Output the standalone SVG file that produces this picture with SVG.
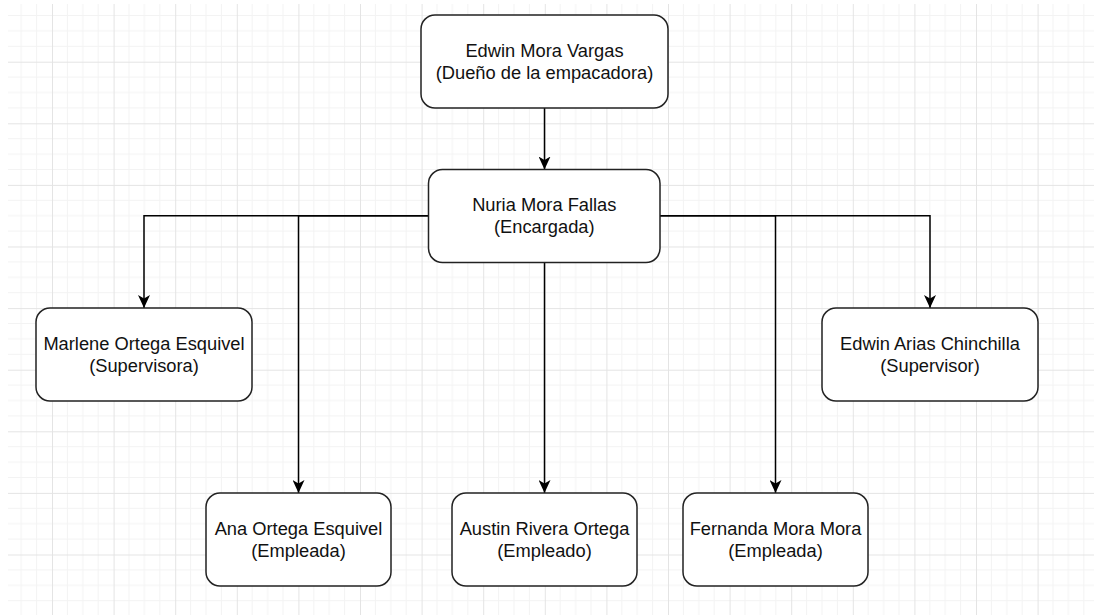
<svg xmlns="http://www.w3.org/2000/svg" width="1094" height="615" viewBox="0 0 1094 615">
  <style>
    .node rect { fill: #ffffff; stroke: #222222; stroke-width: 1.5; }
    .node text { font-family: "Liberation Sans", Arial, Helvetica, sans-serif; font-size: 18.3px; fill: #111111; text-anchor: middle; }
    .edge { fill: none; stroke: #000000; stroke-width: 1.5; marker-end: url(#arrow); }
  </style>
  <defs>
    <marker id="arrow" viewBox="0 0 14 12" refX="13" refY="6" markerWidth="14" markerHeight="12" markerUnits="userSpaceOnUse" orient="auto">
      <path d="M0,0 L13,6 L0,12 L3.5,6 Z" fill="#000000"/>
    </marker>
    <pattern id="grid" x="52" y="61.7" width="61.6" height="61.6" patternUnits="userSpaceOnUse">
      <path d="M15.4,0 V61.6 M30.8,0 V61.6 M46.2,0 V61.6 M0,15.4 H61.6 M0,30.8 H61.6 M0,46.2 H61.6" stroke="#f3f3f3" stroke-width="1" fill="none"/>
      <path d="M0.5,0 V61.6 M0,0.5 H61.6" stroke="#e4e4e4" stroke-width="1" fill="none"/>
    </pattern>
  </defs>
  <rect x="0" y="0" width="1094" height="615" fill="#ffffff"/>
  <rect x="8" y="4" width="1086" height="611" fill="url(#grid)"/>

  <g id="connectors">
    <path class="edge" d="M544.5,108 V169.5"/>
    <path class="edge" d="M428.5,215.7 H144 V308"/>
    <path class="edge" d="M428.5,215.7 H298.5 V493"/>
    <path class="edge" d="M544.5,262.5 V493"/>
    <path class="edge" d="M660,215.7 H775.5 V493"/>
    <path class="edge" d="M660,215.7 H930 V308"/>
  </g>

  <g id="node-edwin-mora" class="node">
    <rect x="421" y="15" width="247" height="93" rx="14" ry="14"/>
    <text x="544.5" y="56.5">Edwin Mora Vargas</text>
    <text x="544.5" y="78.5">(Dueño de la empacadora)</text>
  </g>
  <g id="node-nuria" class="node">
    <rect x="428.5" y="169.5" width="231.5" height="93" rx="14" ry="14"/>
    <text x="544.3" y="210.5">Nuria Mora Fallas</text>
    <text x="544.3" y="232.5">(Encargada)</text>
  </g>
  <g id="node-marlene" class="node">
    <rect x="36" y="308" width="216" height="93" rx="14" ry="14"/>
    <text x="144" y="350">Marlene Ortega Esquivel</text>
    <text x="144" y="372">(Supervisora)</text>
  </g>
  <g id="node-edwin-arias" class="node">
    <rect x="822" y="308" width="216" height="93" rx="14" ry="14"/>
    <text x="930" y="350">Edwin Arias Chinchilla</text>
    <text x="930" y="372">(Supervisor)</text>
  </g>
  <g id="node-ana" class="node">
    <rect x="206" y="493" width="185" height="93" rx="14" ry="14"/>
    <text x="298.5" y="535">Ana Ortega Esquivel</text>
    <text x="298.5" y="557">(Empleada)</text>
  </g>
  <g id="node-austin" class="node">
    <rect x="452" y="493" width="185" height="93" rx="14" ry="14"/>
    <text x="544.5" y="535">Austin Rivera Ortega</text>
    <text x="544.5" y="557">(Empleado)</text>
  </g>
  <g id="node-fernanda" class="node">
    <rect x="683" y="493" width="185" height="93" rx="14" ry="14"/>
    <text x="775.5" y="535">Fernanda Mora Mora</text>
    <text x="775.5" y="557">(Empleada)</text>
  </g>
</svg>
